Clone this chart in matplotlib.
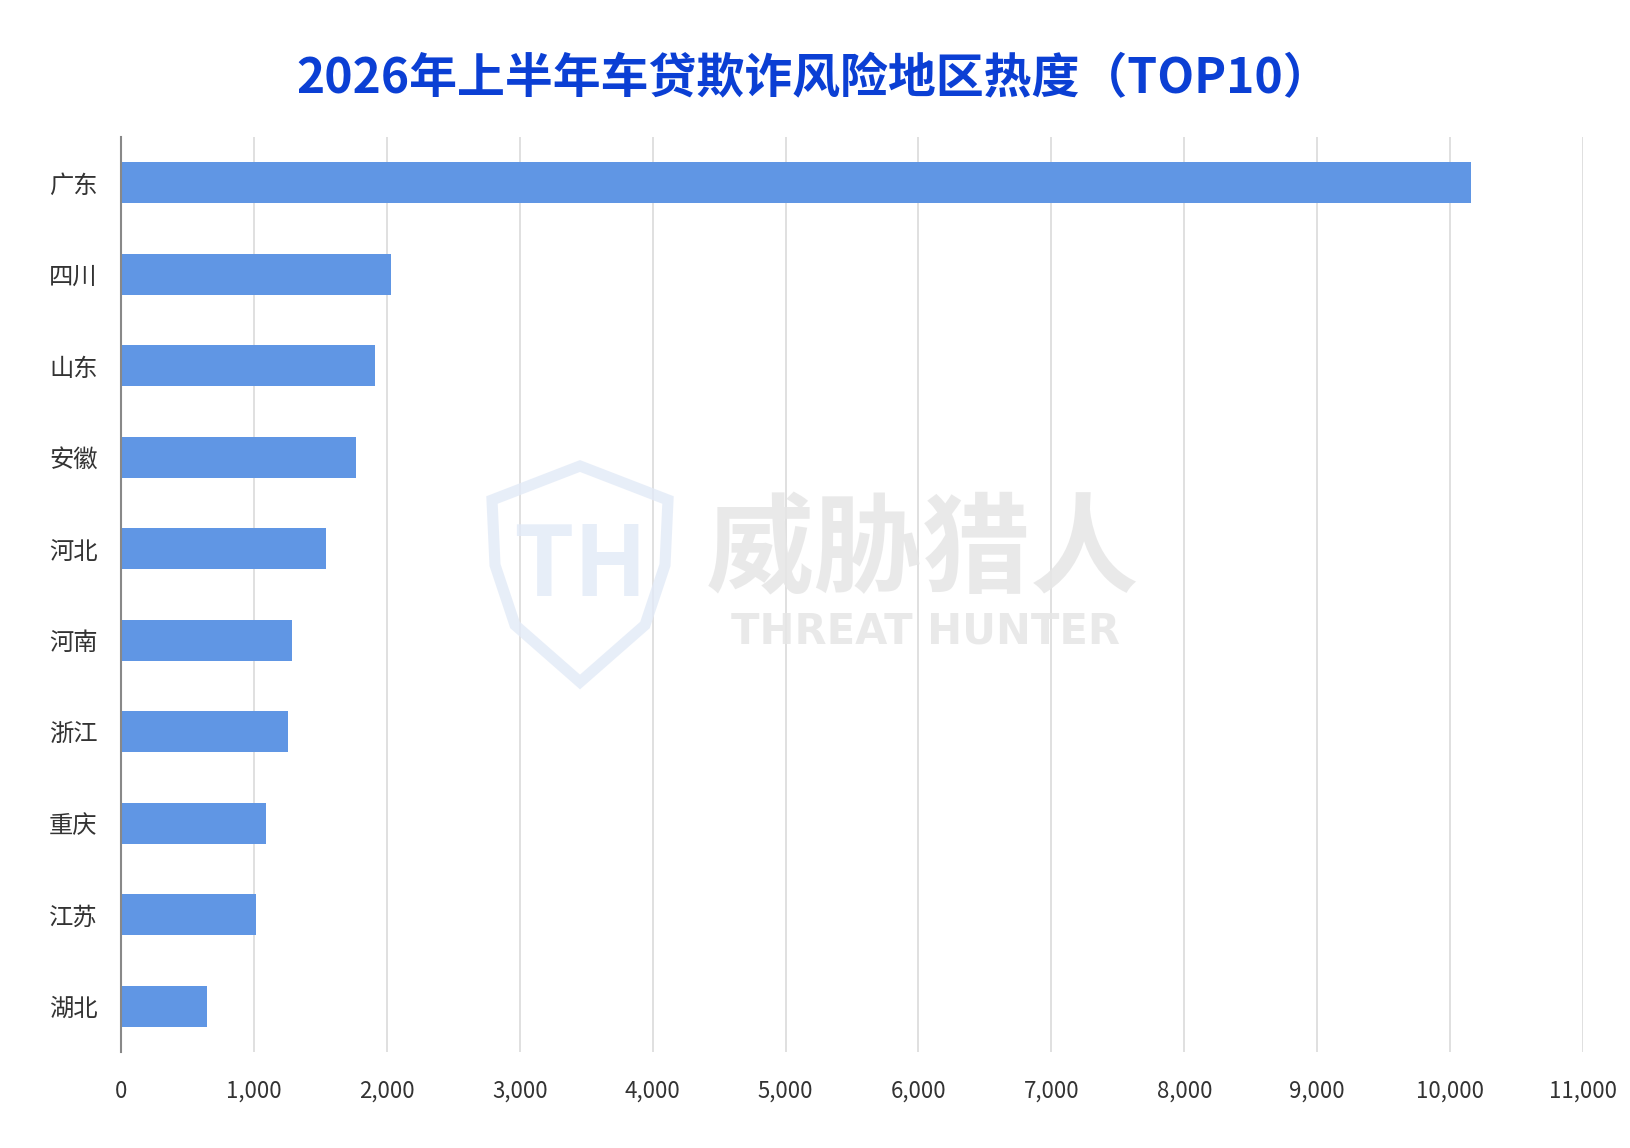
import numpy as np
import matplotlib
matplotlib.use('Agg')
import matplotlib.pyplot as plt
from matplotlib.patches import Polygon
from matplotlib.ticker import FuncFormatter

plt.rcParams['font.family'] = ['Noto Sans CJK SC', 'DejaVu Sans']

# data
regions = ['广东', '四川', '山东', '安徽', '河北', '河南', '浙江', '重庆', '江苏', '湖北']
heat = [10160, 2030, 1910, 1765, 1540, 1290, 1260, 1090, 1015, 645]
x_ticks = list(range(0, 11001, 1000))

W, H = 1630, 1148
fig = plt.figure(figsize=(W / 100, H / 100), dpi=100)
fig.patch.set_facecolor('white')

# axes box in pixel terms of the reference
ax = fig.add_axes([121 / W, 1 - 1052 / H, (1583 - 121) / W, (1052 - 137) / H])

y = np.arange(len(regions))
ax.barh(y, heat, height=0.45, color='#6096e4', zorder=3)
ax.set_ylim(len(regions) - 0.5, -0.5)
ax.set_yticks(y)
ax.set_yticklabels(regions, fontsize=17.5, color='#333333')

ax.set_xlim(0, 11000)
ax.set_xticks(x_ticks)
ax.xaxis.set_major_formatter(FuncFormatter(lambda v, p: f'{int(v):,}'))
ax.tick_params(axis='x', length=0, pad=20, labelsize=16, labelcolor='#333333')
ax.tick_params(axis='y', length=0, pad=17)

ax.grid(axis='x', color='#dadada', linewidth=1.2, zorder=0)
ax.set_axisbelow(True)
for s in ['top', 'right', 'bottom']:
    ax.spines[s].set_visible(False)
ax.spines['left'].set_color('#888888')
ax.spines['left'].set_linewidth(1.5)
ax.spines['left'].set_zorder(4)

# title
fig.text(814 / W, 1 - 79 / H, '2026年上半年车贷欺诈风险地区热度（TOP10）',
         ha='center', va='center', fontsize=34.5, fontweight='bold', color='#0b3fd4')

# watermark: shield + brand text
def px(x, yy):
    return (x / W, 1 - yy / H)

shield = [px(580, 466), px(668, 500), px(665, 565), px(645, 625), px(580, 682),
          px(515, 625), px(495, 565), px(492, 500)]
fig.add_artist(Polygon(shield, closed=True, fill=False, edgecolor='#e2eaf7',
                       linewidth=8, alpha=0.8, transform=fig.transFigure, zorder=2))
fig.text(580 / W, 1 - 568 / H, 'TH', ha='center', va='center', fontsize=70,
         fontweight='bold', color='#e2eaf7', alpha=0.8, zorder=2)
fig.text(923 / W, 1 - 553 / H, '威胁猎人', ha='center', va='center', fontsize=78,
         fontweight='bold', color='#e6e6e6', alpha=0.85, zorder=2)
fig.text(925 / W, 1 - 632 / H, 'THREAT HUNTER', ha='center', va='center',
         fontsize=30, fontweight='bold', color='#e6e6e6', alpha=0.85, zorder=2,
         family=['DejaVu Sans'])

fig.savefig('out.png', dpi=100, facecolor='white')
